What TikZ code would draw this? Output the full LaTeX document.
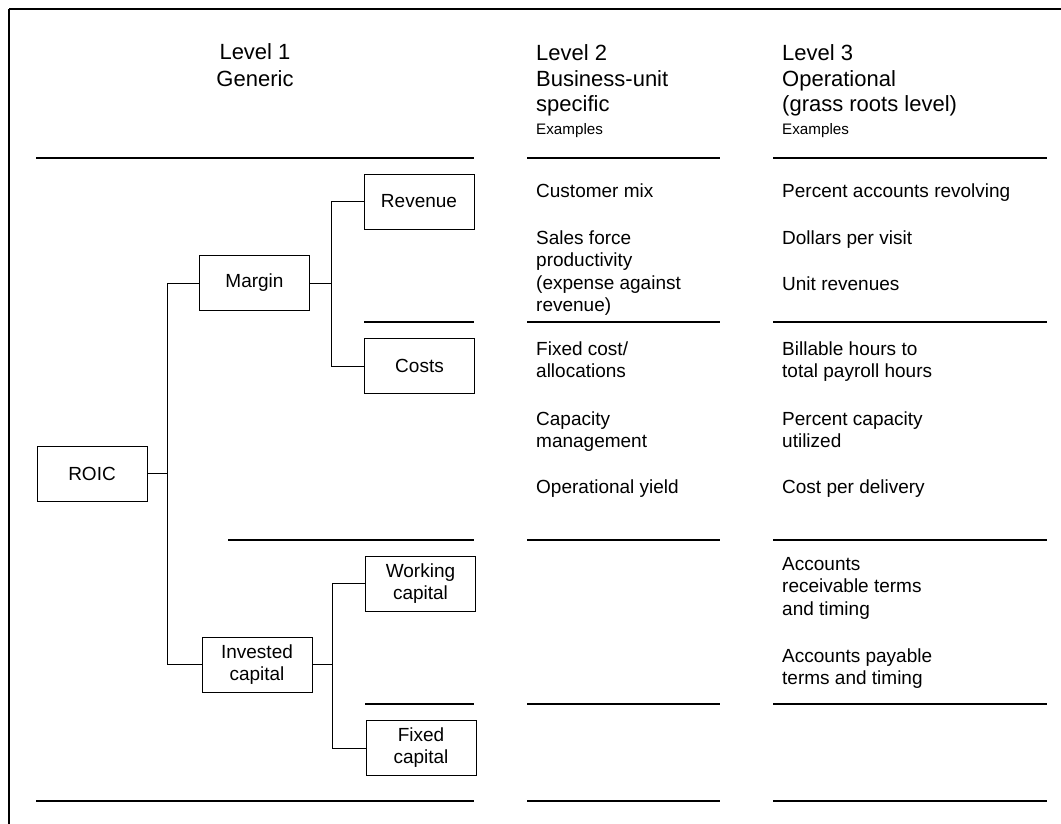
\documentclass[tikz,border=0pt]{standalone}
\usepackage{fontspec}
\setmainfont{Liberation Sans}
\begin{document}
\begin{tikzpicture}[x=1pt,y=-1pt,
  box/.style={draw, line width=0.9pt, minimum width=110pt, minimum height=55pt,
    inner sep=0pt, align=center, font=\fontsize{19}{22}\selectfont},
  rulel/.style={line width=1.8pt},
  frame/.style={line width=2.2pt},
  link/.style={line width=0.9pt},
  % multi-line text nodes are placed by the baseline of their last line
  head/.style={font=\fontsize{22}{25.5}\selectfont, align=left, anchor=base west, inner sep=0pt},
  body/.style={font=\fontsize{19}{22.5}\selectfont, align=left, anchor=base west, inner sep=0pt},
  small/.style={font=\fontsize{15.2}{18}\selectfont, anchor=base west, inner sep=0pt}]
\useasboundingbox (0,0) rectangle (1061,824);

% outer frame (top and left edges)
\draw[frame] (9,9) -- (1061,9);
\draw[frame] (9,9) -- (9,824);

% column headings
\node[font=\fontsize{22}{27}\selectfont, align=center, anchor=base, inner sep=0pt]
  (h1) at (255,87) {Level 1\\Generic};
\node[head] (h2) at (536,112) {Level 2\\Business-unit\\specific};
\node[small] (e2) at (536,135) {Examples};
\node[head] (h3) at (782,112) {Level 3\\Operational\\(grass roots level)};
\node[small] (e3) at (782,135) {Examples};

% horizontal rules
\draw[rulel] (36,158) -- (474,158);
\draw[rulel] (364,322) -- (474,322);
\draw[rulel] (228,540) -- (474,540);
\draw[rulel] (365,704) -- (474,704);
\draw[rulel] (36,801) -- (474,801);
\foreach \y in {158,322,540,704,801}{
  \draw[rulel] (527,\y) -- (720,\y);
  \draw[rulel] (773,\y) -- (1047,\y);
}

% value driver tree
\node[box] (roic) at (92,473.5) {ROIC};
\node[box] (margin) at (254.5,283) {Margin};
\node[box] (revenue) at (419,201.5) {Revenue};
\node[box] (costs) at (419.5,366) {Costs};
\node[box] (invested) at (257,664.5) {Invested\\capital};
\node[box] (working) at (420.5,583.5) {Working\\capital};
\node[box] (fixed) at (421,748) {Fixed\\capital};

\coordinate (trunk) at (167,0);
\coordinate (forkm) at (331,0);
\coordinate (forki) at (332,0);

\draw[link] (roic.east) -- (roic.east -| trunk);
\draw[link] (margin.west) -- (margin.west -| trunk) -- (invested.west -| trunk) -- (invested.west);
\draw[link] (margin.east) -- (margin.east -| forkm);
\draw[link] (revenue.west) -- (revenue.west -| forkm) -- (costs.west -| forkm) -- (costs.west);
\draw[link] (invested.east) -- (invested.east -| forki);
\draw[link] (working.west) -- (working.west -| forki) -- (fixed.west -| forki) -- (fixed.west);

% level 2 examples
\node[body] (c2a) at (536,197) {Customer mix};
\node[body] (c2b) at (536,311.5) {Sales force\\productivity\\(expense against\\revenue)};
\node[body] (c2c) at (536,377.5) {Fixed cost/\\allocations};
\node[body] (c2d) at (536,447.5) {Capacity\\management};
\node[body] (c2e) at (536,493) {Operational yield};

% level 3 examples
\node[body] (c3a) at (782,197) {Percent accounts revolving};
\node[body] (c3b) at (782,244) {Dollars per visit};
\node[body] (c3c) at (782,290) {Unit revenues};
\node[body] (c3d) at (782,377.5) {Billable hours to\\total payroll hours};
\node[body] (c3e) at (782,447.5) {Percent capacity\\utilized};
\node[body] (c3f) at (782,493) {Cost per delivery};
\node[body] (c3g) at (782,615) {Accounts\\receivable terms\\and timing};
\node[body] (c3h) at (782,684.5) {Accounts payable\\terms and timing};
\end{tikzpicture}
\end{document}
